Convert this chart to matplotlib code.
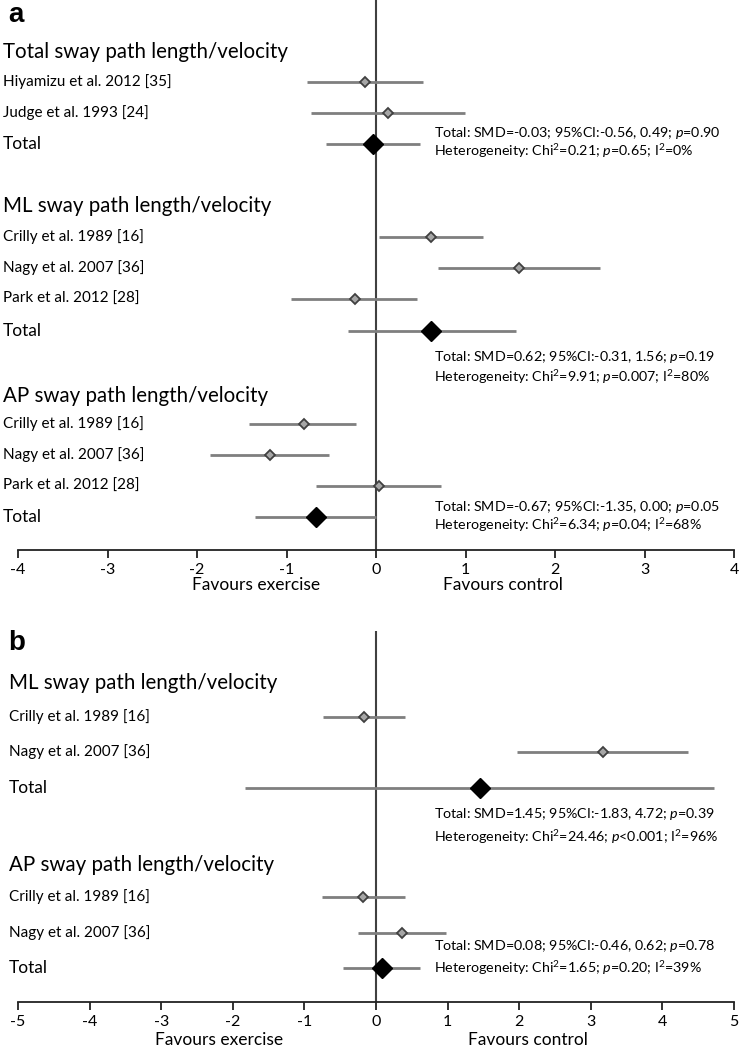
import matplotlib
matplotlib.use("Agg")
import matplotlib.pyplot as plt
import matplotlib.transforms as mtransforms

plt.rcParams['font.family'] = ['Lato', 'DejaVu Sans']
plt.rcParams['mathtext.fontset'] = 'custom'
plt.rcParams['mathtext.rm'] = 'Lato'
plt.rcParams['mathtext.it'] = 'Lato:italic'
plt.rcParams['axes.unicode_minus'] = False

# ---------------- Data: panel a ----------------
a_headers = ["Total sway path length/velocity",
             "ML sway path length/velocity",
             "AP sway path length/velocity"]
a_studies = [["Hiyamizu et al. 2012 [35]", "Judge et al. 1993 [24]"],
             ["Crilly et al. 1989 [16]", "Nagy et al. 2007 [36]", "Park et al. 2012 [28]"],
             ["Crilly et al. 1989 [16]", "Nagy et al. 2007 [36]", "Park et al. 2012 [28]"]]
a_est = [[-0.12, 0.13], [0.62, 1.60, -0.24], [-0.81, -1.18, 0.03]]
a_lo = [[-0.77, -0.73], [0.03, 0.69, -0.95], [-1.42, -1.85, -0.67]]
a_hi = [[0.52, 0.99], [1.20, 2.50, 0.46], [-0.22, -0.53, 0.73]]
a_tot_est = [-0.03, 0.62, -0.67]
a_tot_lo = [-0.56, -0.31, -1.35]
a_tot_hi = [0.49, 1.56, 0.00]
a_stats1 = [r"Total: SMD=-0.03; 95%CI:-0.56, 0.49; $\it{p}$=0.90",
            r"Total: SMD=0.62; 95%CI:-0.31, 1.56; $\it{p}$=0.19",
            r"Total: SMD=-0.67; 95%CI:-1.35, 0.00; $\it{p}$=0.05"]
a_stats2 = [r"Heterogeneity: Chi$^{2}$=0.21; $\it{p}$=0.65; I$^{2}$=0%",
            r"Heterogeneity: Chi$^{2}$=9.91; $\it{p}$=0.007; I$^{2}$=80%",
            r"Heterogeneity: Chi$^{2}$=6.34; $\it{p}$=0.04; I$^{2}$=68%"]
a_ticks = [-4, -3, -2, -1, 0, 1, 2, 3, 4]

# ---------------- Data: panel b ----------------
b_headers = ["ML sway path length/velocity", "AP sway path length/velocity"]
b_studies = [["Crilly et al. 1989 [16]", "Nagy et al. 2007 [36]"],
             ["Crilly et al. 1989 [16]", "Nagy et al. 2007 [36]"]]
b_est = [[-0.17, 3.17], [-0.18, 0.37]]
b_lo = [[-0.74, 1.97], [-0.76, -0.25]]
b_hi = [[0.40, 4.36], [0.40, 0.98]]
b_tot_est = [1.45, 0.08]
b_tot_lo = [-1.83, -0.46]
b_tot_hi = [4.72, 0.62]
b_stats1 = [r"Total: SMD=1.45; 95%CI:-1.83, 4.72; $\it{p}$=0.39",
            r"Total: SMD=0.08; 95%CI:-0.46, 0.62; $\it{p}$=0.78"]
b_stats2 = [r"Heterogeneity: Chi$^{2}$=24.46; $\it{p}$<0.001; I$^{2}$=96%",
            r"Heterogeneity: Chi$^{2}$=1.65; $\it{p}$=0.20; I$^{2}$=39%"]
b_ticks = [-5, -4, -3, -2, -1, 0, 1, 2, 3, 4, 5]

# ---------------- Layout (pixel positions) ----------------
W, H = 742, 1051
fig = plt.figure(figsize=(W / 100, H / 100), dpi=100)

LINE_C = '#7f7f7f'
MK_FACE = '#a6a6a6'
MK_EDGE = '#404040'
FS_HEADER = 14.8
FS_STUDY = 11.0
FS_TOTAL = 12.5
FS_STATS = 10.3


def make_panel(top, bottom, zero_px, unit_px, ticks):
    ax = fig.add_axes([0, 1 - bottom / H, 1, (bottom - top) / H])
    ax.set_ylim(bottom, top)
    ax.set_xlim((0 - zero_px) / unit_px, (W - zero_px) / unit_px)
    for s in ['left', 'right', 'top']:
        ax.spines[s].set_visible(False)
    ax.spines['bottom'].set_bounds(ticks[0], ticks[-1])
    ax.spines['bottom'].set_linewidth(1.3)
    ax.spines['bottom'].set_color('#222222')
    ax.set_yticks([])
    ax.set_xticks(ticks)
    ax.set_xticklabels([str(t) for t in ticks])
    ax.tick_params(axis='x', direction='out', length=6, width=1.3,
                   color='#222222', labelsize=11.5, pad=3)
    ax.axvline(0, color='#404040', lw=1.5, zorder=1)
    ax.patch.set_alpha(0)
    return ax


def draw_group(ax, xlab, header, header_y, studies, est, lo, hi, rows,
               tot, tlo, thi, trow, s1, s2, sy, sx):
    tr = mtransforms.blended_transform_factory(fig.transFigure, ax.transData)
    ax.text(xlab / W, header_y, header, transform=tr, fontsize=FS_HEADER,
            va='center', ha='left')
    for name, e, l, h, y in zip(studies, est, lo, hi, rows):
        ax.text(xlab / W, y, name, transform=tr, fontsize=FS_STUDY,
                va='center', ha='left')
        ax.plot([l, h], [y, y], color=LINE_C, lw=2, zorder=2,
                solid_capstyle='butt')
        ax.plot([e], [y], marker='D', ms=5, mfc=MK_FACE, mec=MK_EDGE,
                mew=1.3, zorder=3)
    ax.text(xlab / W, trow, "Total", transform=tr, fontsize=FS_TOTAL,
            va='center', ha='left')
    ax.plot([tlo, thi], [trow, trow], color=LINE_C, lw=2, zorder=2,
            solid_capstyle='butt')
    ax.plot([tot], [trow], marker='D', ms=10.5, mfc='black', mec='black',
            zorder=3)
    ax.text(sx / W, sy[0], s1, transform=tr, fontsize=FS_STATS,
            va='center', ha='left')
    ax.text(sx / W, sy[1], s2, transform=tr, fontsize=FS_STATS,
            va='center', ha='left')


# Panel a
axA = make_panel(0, 550, 376, 89.5, a_ticks)
a_header_y = [52, 206, 396]
a_rows = [[82, 113], [237, 268, 299], [424, 455, 486]]
a_trow = [144, 331, 517]
a_stat_y = [(133, 151), (357, 377), (507, 525)]
for i in range(3):
    draw_group(axA, 3, a_headers[i], a_header_y[i], a_studies[i], a_est[i],
               a_lo[i], a_hi[i], a_rows[i], a_tot_est[i], a_tot_lo[i],
               a_tot_hi[i], a_trow[i], a_stats1[i], a_stats2[i],
               a_stat_y[i], 434)

# Panel b
axB = make_panel(631, 1002, 376, 71.6, b_ticks)
b_header_y = [683, 865]
b_rows = [[717, 752], [897, 933]]
b_trow = [788, 968]
b_stat_y = [(814, 837), (946, 968)]
for i in range(2):
    draw_group(axB, 9, b_headers[i], b_header_y[i], b_studies[i], b_est[i],
               b_lo[i], b_hi[i], b_rows[i], b_tot_est[i], b_tot_lo[i],
               b_tot_hi[i], b_trow[i], b_stats1[i], b_stats2[i],
               b_stat_y[i], 434)


def ftext(x, y, s, **kw):
    fig.text(x / W, 1 - y / H, s, **kw)


ftext(8, 15, "a", fontsize=20, fontweight='bold', va='center', ha='left',
      family=['Liberation Sans', 'DejaVu Sans'])
ftext(8, 643, "b", fontsize=20, fontweight='bold', va='center', ha='left',
      family=['Liberation Sans', 'DejaVu Sans'])
ftext(256, 585, "Favours exercise", fontsize=12.5, va='center', ha='center')
ftext(503, 585, "Favours control", fontsize=12.5, va='center', ha='center')
ftext(219, 1040, "Favours exercise", fontsize=12.5, va='center', ha='center')
ftext(528, 1040, "Favours control", fontsize=12.5, va='center', ha='center')

fig.savefig("out.png", dpi=100, facecolor='white')
